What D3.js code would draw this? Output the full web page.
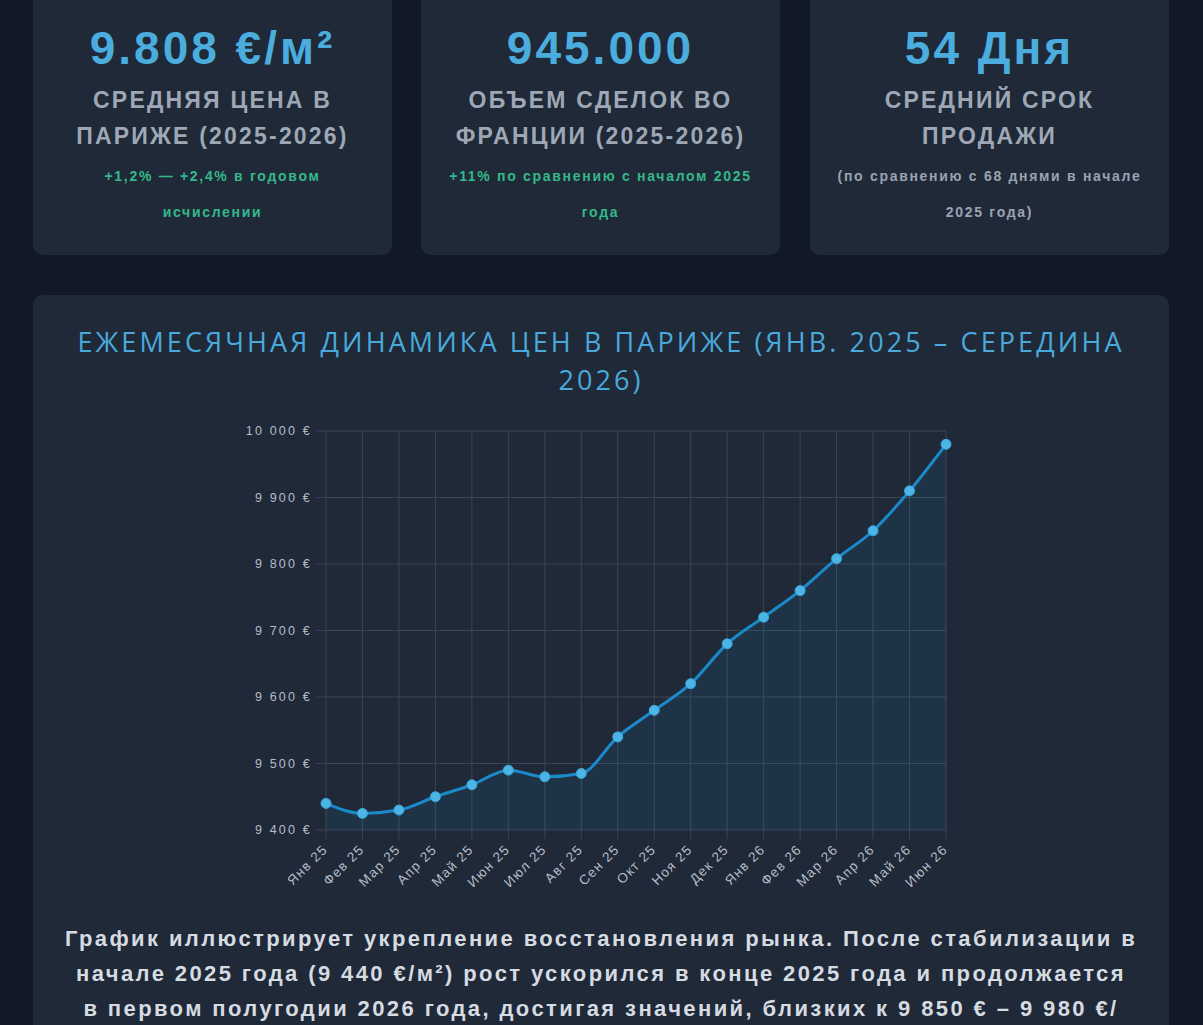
<!DOCTYPE html>
<html><head><meta charset="utf-8">
<script src="https://cdn.jsdelivr.net/npm/d3@7"></script>
<style>
body{margin:0;background:#111827;overflow:hidden}
svg{display:block}
</style></head>
<body><svg id="c" width="1203" height="1025"></svg>
<script>
// ---- data ----
const months = ["Янв 25","Фев 25","Мар 25","Апр 25","Май 25","Июн 25","Июл 25","Авг 25","Сен 25","Окт 25","Ноя 25","Дек 25","Янв 26","Фев 26","Мар 26","Апр 26","Май 26","Июн 26"];
const prices = [9440,9425,9430,9450,9468,9490,9480,9485,9540,9580,9620,9680,9720,9760,9808,9850,9910,9980];
const yTicks = [9400,9500,9600,9700,9800,9900,10000];
const kpiValues = ["9.808 €/м²","945.000","54 Дня"];
const kpiLabels = [["СРЕДНЯЯ ЦЕНА В","ПАРИЖЕ (2025-2026)"],["ОБЪЕМ СДЕЛОК ВО","ФРАНЦИИ (2025-2026)"],["СРЕДНИЙ СРОК","ПРОДАЖИ"]];
const kpiNotes = [["+1,2% — +2,4% в годовом","исчислении"],["+11% по сравнению с началом 2025","года"],["(по сравнению с 68 днями в начале","2025 года)"]];
const kpiNoteColors = ["#34b88a","#34b88a","#9aa3b2"];
const titleLines = ["ЕЖЕМЕСЯЧНАЯ ДИНАМИКА ЦЕН В ПАРИЖЕ (ЯНВ. 2025 – СЕРЕДИНА","2026)"];
const bodyLines = ["График иллюстрирует укрепление восстановления рынка. После стабилизации в","начале 2025 года (9 440 €/м²) рост ускорился в конце 2025 года и продолжается","в первом полугодии 2026 года, достигая значений, близких к 9 850 € – 9 980 €/"];

const svg = d3.select("#c");
const FONT = "'Liberation Sans', Arial, sans-serif";

// ---- KPI cards ----
const cardX = [33, 421, 810], cardW = 359;
cardX.forEach((x0, i) => {
  svg.append("rect").attr("x", x0).attr("y", -20).attr("width", cardW).attr("height", 275)
    .attr("rx", 10).attr("fill", "#1f2937");
  const cx = x0 + cardW / 2;
  svg.append("text").attr("x", cx).attr("y", 64).attr("text-anchor", "middle")
    .attr("font-family", FONT).attr("font-weight", 700).attr("font-size", 46)
    .attr("letter-spacing", 3).attr("fill", "#4badde").text(kpiValues[i]);
  kpiLabels[i].forEach((t, j) => {
    svg.append("text").attr("x", cx).attr("y", 108 + j * 36).attr("text-anchor", "middle")
      .attr("font-family", FONT).attr("font-weight", 700).attr("font-size", 23)
      .attr("letter-spacing", 2.2).attr("fill", "#9ea7b5").text(t);
  });
  kpiNotes[i].forEach((t, j) => {
    svg.append("text").attr("x", cx).attr("y", 181 + j * 36).attr("text-anchor", "middle")
      .attr("font-family", FONT).attr("font-weight", 700).attr("font-size", 14)
      .attr("letter-spacing", 1.7).attr("fill", kpiNoteColors[i]).text(t);
  });
});

// ---- main card ----
svg.append("rect").attr("x", 33).attr("y", 295).attr("width", 1136).attr("height", 760)
  .attr("rx", 10).attr("fill", "#1f2937");

titleLines.forEach((t, j) => {
  svg.append("text").attr("x", 601).attr("y", 352 + j * 38).attr("text-anchor", "middle")
    .attr("font-family", "'Open Sans', sans-serif").attr("font-weight", 500).attr("font-size", 27)
    .attr("letter-spacing", 3.1).attr("fill", "#4aa9dc").text(t);
});

// ---- chart ----
const L = 326, R = 946, T = 431, B = 830;
const x = d3.scalePoint().domain(months).range([L, R]);
const y = d3.scaleLinear().domain([9400, 10000]).range([B, T]);
const g = svg.append("g");

g.selectAll(".hg").data(yTicks).join("line")
  .attr("x1", L - 9).attr("x2", R).attr("y1", d => y(d)).attr("y2", d => y(d))
  .attr("stroke", "#3a4558").attr("stroke-width", 1);
g.selectAll(".vg").data(months).join("line")
  .attr("x1", d => x(d)).attr("x2", d => x(d)).attr("y1", T).attr("y2", B + 9)
  .attr("stroke", "#3a4558").attr("stroke-width", 1);

const fmt = v => d3.format(",")(v).replace(/,/g, " ") + " €";
g.selectAll(".yl").data(yTicks).join("text")
  .attr("x", 312).attr("y", d => y(d)).attr("dy", "0.35em").attr("text-anchor", "end")
  .attr("font-family", FONT).attr("font-size", 12.5).attr("letter-spacing", 2.2)
  .attr("fill", "#b4bcc8").text(fmt);

g.selectAll(".xl").data(months).join("text")
  .attr("transform", d => `translate(${x(d) - 1},${B + 17}) rotate(-45)`)
  .attr("text-anchor", "end").attr("dy", "0.35em")
  .attr("font-family", FONT).attr("font-size", 13.5).attr("letter-spacing", 1.2)
  .attr("fill", "#b4bcc8").text(d => d);

const curve = d3.curveMonotoneX;
const area = d3.area().x((d, i) => x(months[i])).y0(B).y1(d => y(d)).curve(curve);
const line = d3.line().x((d, i) => x(months[i])).y(d => y(d)).curve(curve);
g.append("path").datum(prices).attr("d", area).attr("fill", "rgba(33,140,210,0.11)");
g.append("path").datum(prices).attr("d", line).attr("fill", "none")
  .attr("stroke", "#1b8acb").attr("stroke-width", 3);
g.selectAll(".pt").data(prices).join("circle")
  .attr("cx", (d, i) => x(months[i])).attr("cy", d => y(d)).attr("r", 5)
  .attr("fill", "#4bb5e6").attr("stroke", "#3aa6dc").attr("stroke-width", 1);

// ---- body text ----
bodyLines.forEach((t, j) => {
  svg.append("text").attr("x", 601).attr("y", 946 + j * 35).attr("text-anchor", "middle")
    .attr("font-family", FONT).attr("font-weight", 700).attr("font-size", 22)
    .attr("letter-spacing", 2.4).attr("fill", "#d6dbe2").text(t);
});
</script></body></html>
